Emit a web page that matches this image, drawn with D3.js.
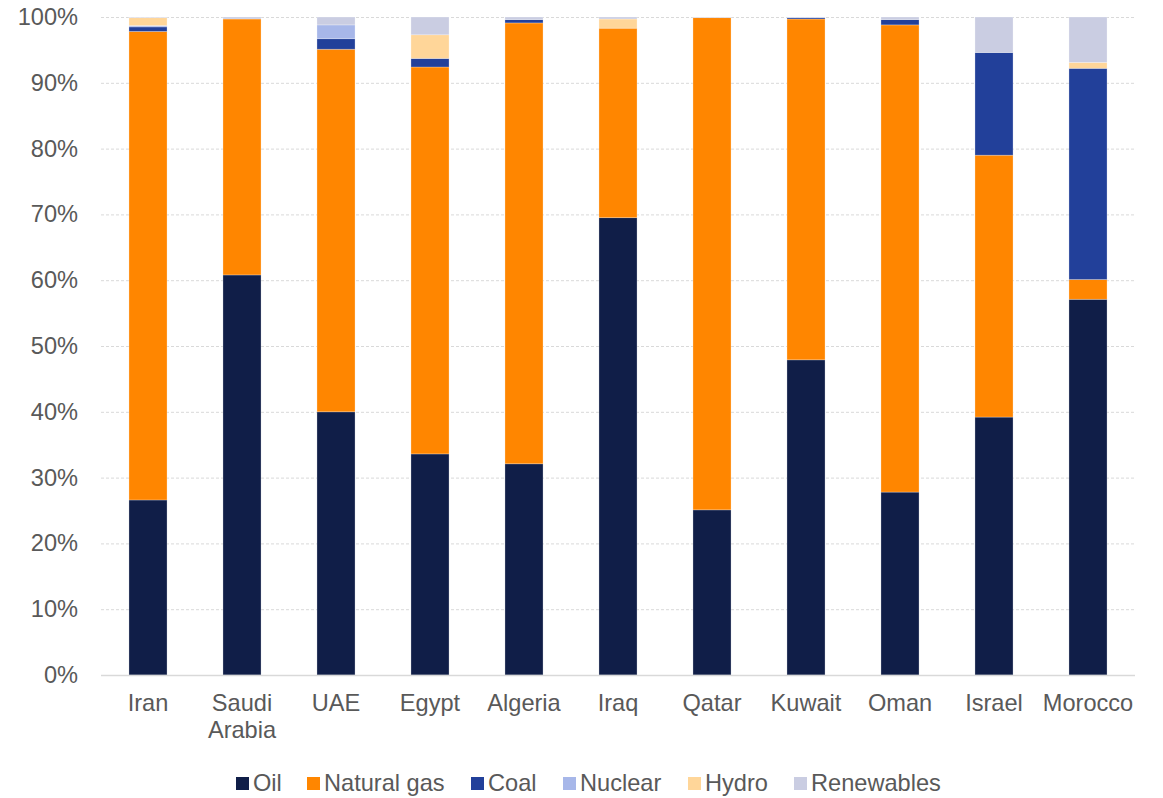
<!DOCTYPE html>
<html>
<head>
<meta charset="utf-8">
<script src="https://cdn.jsdelivr.net/npm/d3@7"></script>
<style>
  body { margin: 0; background: #fff; }
  text { font-family: "Liberation Sans", Arial, sans-serif; fill: #595959; }
</style>
</head>
<body>
<div id="chart"></div>
<script>
var width = 1163;
var height = 798;
var margin = { top: 17, right: 28, bottom: 123, left: 101 };
var fontSize = "23.6px";

var countries = ["Iran", "Saudi Arabia", "UAE", "Egypt", "Algeria", "Iraq", "Qatar", "Kuwait", "Oman", "Israel", "Morocco"];
var sources = ["Oil", "Natural gas", "Coal", "Nuclear", "Hydro", "Renewables"];
var colors = ["#101e48", "#ff8600", "#22409a", "#a7b7e9", "#ffd699", "#cacde2"];

// shares in %, one array per source, same order as countries
var oil        = [26.6, 60.8, 40.0, 33.6, 32.1, 69.5, 25.1, 47.9, 27.8, 39.2, 57.1];
var naturalGas = [71.2, 38.9, 55.1, 58.8, 67.0, 28.8, 74.8, 51.8, 71.0, 39.8, 3.0];
var coal       = [0.7, 0, 1.6, 1.3, 0.5, 0, 0, 0.2, 0.8, 15.6, 32.1];
var nuclear    = [0.2, 0, 2.1, 0, 0, 0, 0, 0, 0, 0, 0];
var hydro      = [1.2, 0, 0, 3.6, 0, 1.4, 0, 0, 0, 0, 0.9];
var renewables = [0.1, 0.3, 1.2, 2.7, 0.4, 0.3, 0.1, 0.1, 0.4, 5.4, 6.9];
var yTicks = [0, 10, 20, 30, 40, 50, 60, 70, 80, 90, 100];

var series = [oil, naturalGas, coal, nuclear, hydro, renewables];
var rows = countries.map(function(c, i) {
    var row = { country: c };
    sources.forEach(function(s, j) { row[s] = series[j][i]; });
    return row;
});

var stacked = d3.stack().keys(sources)(rows);

var x = d3.scaleBand()
    .domain(countries)
    .range([margin.left, width - margin.right])
    .paddingInner(0.595)
    .paddingOuter(0.2975);

var y = d3.scaleLinear()
    .domain([0, 100])
    .range([height - margin.bottom, margin.top]);

var color = d3.scaleOrdinal().domain(sources).range(colors);

var svg = d3.select("#chart")
    .append("svg")
    .attr("width", width)
    .attr("height", height);

// gridlines
svg.append("g")
    .selectAll("line")
    .data(yTicks.filter(function(d) { return d > 0; }))
    .enter().append("line")
    .attr("x1", margin.left)
    .attr("x2", width - margin.right)
    .attr("y1", function(d) { return y(d) + 0.5; })
    .attr("y2", function(d) { return y(d) + 0.5; })
    .attr("stroke", "#d9d9d9")
    .attr("stroke-width", 1)
    .attr("stroke-dasharray", "3,2");

// bars
svg.append("g")
    .selectAll("g")
    .data(stacked)
    .enter().append("g")
    .attr("fill", function(d) { return color(d.key); })
    .selectAll("rect")
    .data(function(d) { return d; })
    .enter().append("rect")
    .attr("x", function(d) { return x(d.data.country); })
    .attr("y", function(d) { return y(d[1]); })
    .attr("width", x.bandwidth())
    .attr("height", function(d) { return Math.max(0, y(d[0]) - y(d[1])); })
    .attr("stroke", "#ffffff")
    .attr("stroke-opacity", 0.35)
    .attr("stroke-width", 0.75);

// baseline
svg.append("line")
    .attr("x1", margin.left)
    .attr("x2", width - margin.right)
    .attr("y1", y(0) + 0.5)
    .attr("y2", y(0) + 0.5)
    .attr("stroke", "#d9d9d9")
    .attr("stroke-width", 1.5);

// y axis labels
var yAxis = d3.axisLeft(y)
    .tickValues(yTicks)
    .tickFormat(function(d) { return d + "%"; })
    .tickSize(0)
    .tickPadding(23);

var gy = svg.append("g")
    .attr("transform", "translate(" + margin.left + ",0)")
    .call(yAxis);
gy.select(".domain").remove();
gy.selectAll("text")
    .style("font-size", fontSize)
    .attr("fill", "#595959");

// x axis labels (with wrapping)
var xAxis = d3.axisBottom(x).tickSize(0).tickPadding(0);
var gx = svg.append("g")
    .attr("transform", "translate(0," + y(0) + ")")
    .call(xAxis);
gx.select(".domain").remove();
gx.selectAll("text").each(function(d) {
    var t = d3.select(this);
    var words = d.split(" ");
    t.text(null)
        .attr("y", 0)
        .attr("dy", null)
        .style("font-size", fontSize)
        .attr("fill", "#595959");
    words.forEach(function(w, i) {
        t.append("tspan")
            .attr("x", 0)
            .attr("y", 36 + i * 27)
            .text(w);
    });
});

// legend
var legendItems = [
    { key: "Oil", x: 236 },
    { key: "Natural gas", x: 307 },
    { key: "Coal", x: 471 },
    { key: "Nuclear", x: 563 },
    { key: "Hydro", x: 688 },
    { key: "Renewables", x: 794 }
];

var legend = svg.append("g")
    .selectAll("g")
    .data(legendItems)
    .enter().append("g")
    .attr("transform", function(d) { return "translate(" + d.x + ",777)"; });

legend.append("rect")
    .attr("width", 13)
    .attr("height", 13)
    .attr("fill", function(d) { return color(d.key); });

legend.append("text")
    .attr("x", 17)
    .attr("y", 14)
    .style("font-size", fontSize)
    .attr("fill", "#595959")
    .text(function(d) { return d.key; });
</script>
</body>
</html>
